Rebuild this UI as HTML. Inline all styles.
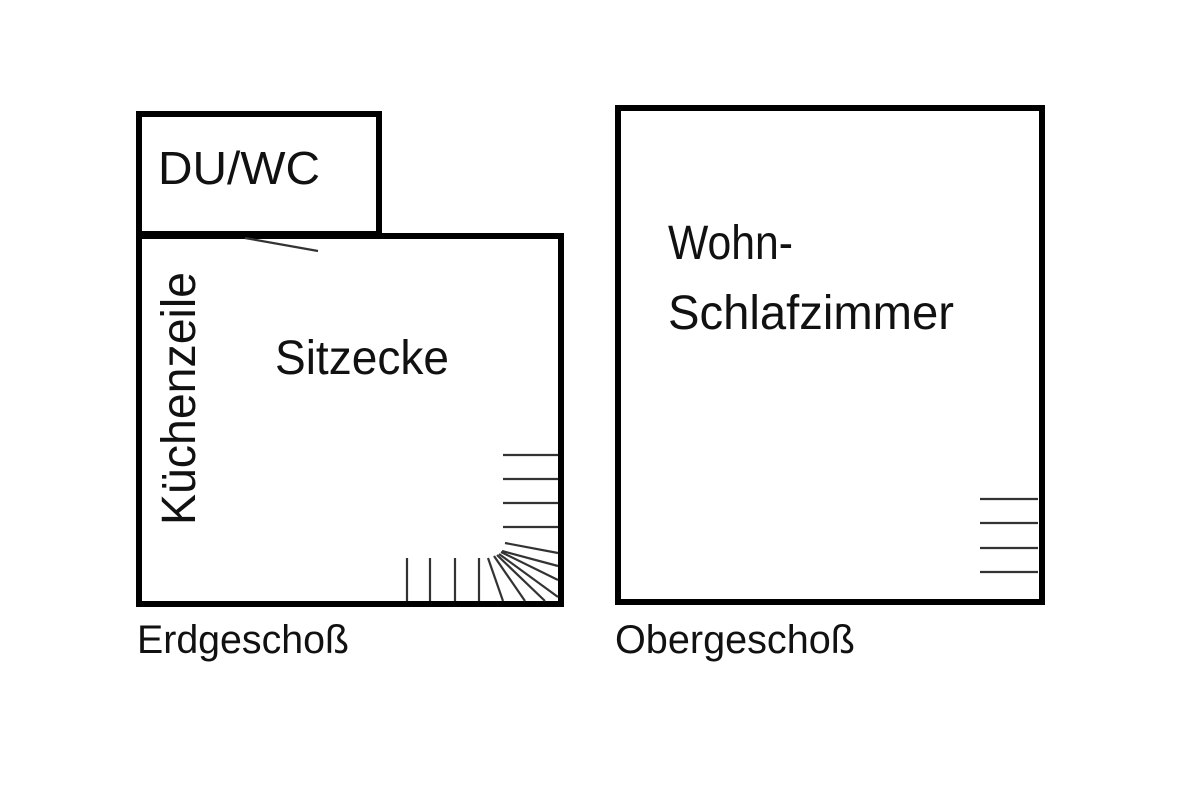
<!DOCTYPE html>
<html><head><meta charset="utf-8"><style>
html,body{margin:0;padding:0;background:#fff;width:1200px;height:800px;overflow:hidden}
</style></head><body>
<svg width="1200" height="800" viewBox="0 0 1200 800" xmlns="http://www.w3.org/2000/svg" font-family="'Liberation Sans', sans-serif" fill="#111">
<g fill="none" stroke="#000" stroke-width="6">
<rect x="139" y="114" width="240" height="120"/>
<rect x="139" y="236" width="422" height="368"/>
<rect x="618" y="108" width="424" height="494"/>
</g>
<g stroke="#333" stroke-width="2.2">
<line x1="245" y1="238" x2="318" y2="251"/>
<line x1="503" y1="455" x2="558" y2="455"/>
<line x1="503" y1="479" x2="558" y2="479"/>
<line x1="503" y1="503" x2="558" y2="503"/>
<line x1="503" y1="527" x2="558" y2="527"/>
<line x1="505" y1="543" x2="558" y2="553"/>
<line x1="407" y1="558" x2="407" y2="601"/>
<line x1="430" y1="558" x2="430" y2="601"/>
<line x1="455" y1="558" x2="455" y2="601"/>
<line x1="479" y1="558" x2="479" y2="601"/>
<line x1="488" y1="558" x2="503" y2="601"/>
<line x1="494" y1="556" x2="525" y2="601"/>
<line x1="497" y1="555" x2="545" y2="601"/>
<line x1="499" y1="554" x2="558" y2="597"/>
<line x1="501" y1="552" x2="558" y2="580"/>
<line x1="502" y1="551" x2="558" y2="566"/>
<line x1="980" y1="499" x2="1038" y2="499"/>
<line x1="980" y1="523" x2="1038" y2="523"/>
<line x1="980" y1="548" x2="1038" y2="548"/>
<line x1="980" y1="572" x2="1038" y2="572"/>
</g>
<text x="158" y="184" font-size="46" textLength="162" lengthAdjust="spacingAndGlyphs">DU/WC</text>
<text x="275" y="374" font-size="48" textLength="174" lengthAdjust="spacingAndGlyphs">Sitzecke</text>
<text transform="translate(195,525) rotate(-90)" font-size="48" textLength="253" lengthAdjust="spacingAndGlyphs">Küchenzeile</text>
<text x="668" y="259" font-size="48" textLength="125" lengthAdjust="spacingAndGlyphs">Wohn-</text>
<text x="668" y="329" font-size="48" textLength="286" lengthAdjust="spacingAndGlyphs">Schlafzimmer</text>
<text x="137" y="653" font-size="40" textLength="212" lengthAdjust="spacingAndGlyphs">Erdgeschoß</text>
<text x="615" y="653" font-size="40" textLength="240" lengthAdjust="spacingAndGlyphs">Obergeschoß</text>
</svg>
</body></html>
